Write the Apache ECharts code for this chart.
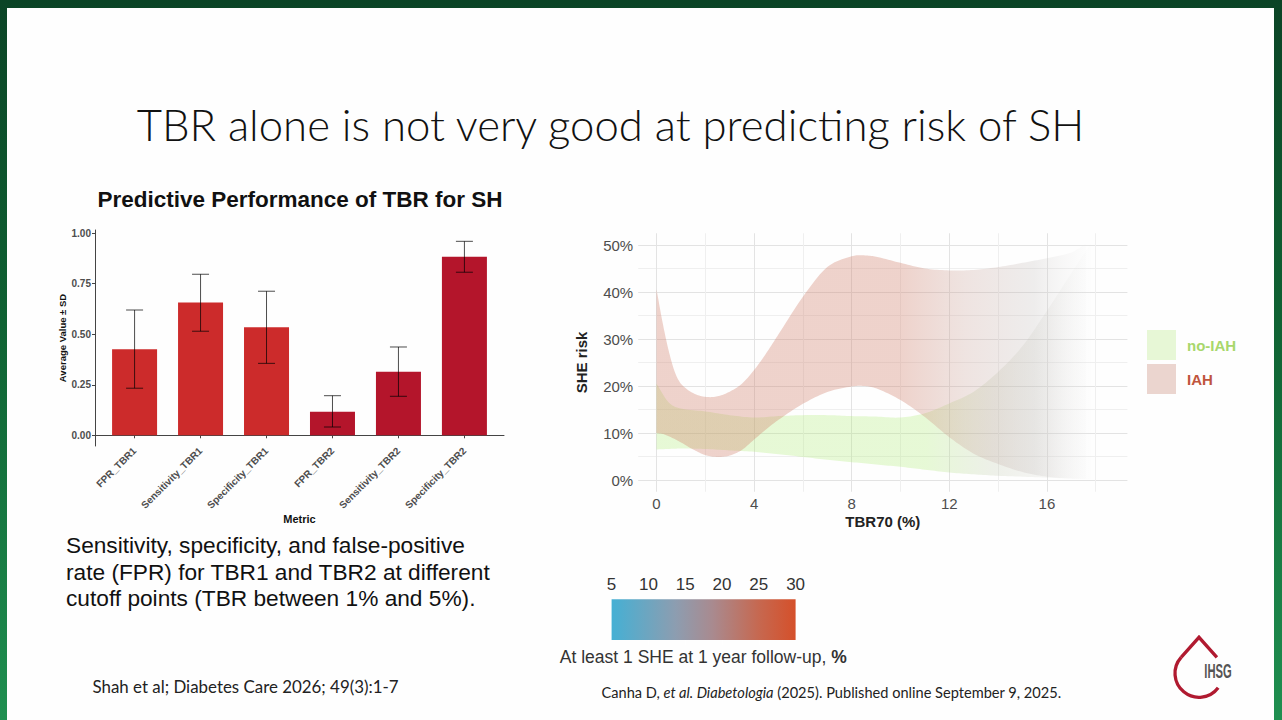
<!DOCTYPE html>
<html><head><meta charset="utf-8">
<script src="https://cdn.jsdelivr.net/npm/echarts@6/dist/echarts.min.js"></script>
<style>
html,body{margin:0;padding:0;width:1282px;height:720px;overflow:hidden;}
body{background:linear-gradient(to bottom,#0b4426 0%,#0f6233 45%,#1f8f50 100%);position:relative;}
#slide{position:absolute;left:7px;top:8px;width:1267px;height:712px;background:#fefefe;}
#chart{position:absolute;left:0;top:0;width:1282px;height:720px;}
</style></head><body><div id="slide"></div><div id="chart"></div>
<script>
// ---------- data: left bar chart ----------
const metrics = ['FPR_TBR1','Sensitivity_TBR1','Specificity_TBR1','FPR_TBR2','Sensitivity_TBR2','Specificity_TBR2'];
const meanValues = [0.426, 0.657, 0.535, 0.117, 0.315, 0.884];
const sdLower = [0.233, 0.515, 0.356, 0.041, 0.193, 0.807];
const sdUpper = [0.620, 0.797, 0.713, 0.196, 0.437, 0.960];
const barYTicks = [0, 0.25, 0.5, 0.75, 1];

// ---------- data: right ribbon chart ----------
const tbrTicksMajor = [0, 4, 8, 12, 16];
const tbrTicksMinor = [2, 6, 10, 14, 18];
const riskTicksMajor = [0, 10, 20, 30, 40, 50];
const riskTicksMinor = [5, 15, 25, 35, 45];

const iahTBR   = [0, 0.25, 0.5, 0.75, 1, 1.5, 2, 2.5, 3, 3.5, 4, 4.5, 5, 6, 7, 8, 8.5, 9, 10, 11, 12, 13, 14, 15, 16, 17, 17.6];
const iahLower = [10, 9.8, 9.3, 8.7, 8.0, 6.5, 5.3, 4.9, 5.2, 6.4, 8.6, 10.8, 12.8, 16.2, 18.7, 19.9, 20.0, 19.5, 17.0, 13.4, 9.1, 5.6, 3.4, 1.7, 0.7, 0.3, 0.2];
const iahUpper = [40.6, 33.5, 27.5, 23.0, 20.5, 18.5, 17.7, 17.8, 18.8, 20.5, 23.4, 27.0, 31.0, 39.0, 45.3, 47.6, 47.8, 47.5, 46.2, 45.0, 44.6, 44.7, 45.3, 46.2, 47.2, 48.4, 50.3];

const noIahTBR   = [0, 0.5, 1, 2, 3, 4, 5, 6, 7, 8, 9, 10, 11, 12, 13, 14, 15, 16, 17, 17.8];
const noIahLower = [6.5, 6.6, 6.7, 6.6, 6.3, 6.0, 5.5, 4.9, 4.3, 3.8, 3.3, 2.8, 2.2, 1.6, 1.2, 0.9, 0.7, 0.5, 0.3, 0.2];
const noIahUpper = [20.5, 16.5, 15.2, 14.6, 13.8, 13.3, 13.6, 13.8, 13.8, 13.6, 13.5, 13.3, 14.2, 16.3, 18.8, 23.0, 28.5, 36.0, 44.0, 50.4];

// ---------- data: colour bar ----------
const colorbarTicks = [5, 10, 15, 20, 25, 30];

// ---------- helpers ----------
const SANS = "'Liberation Sans', Arial, sans-serif";
const CAL = "Lato, 'Open Sans', sans-serif";

function spline(pts, sub) {
  const n = pts.length, out = [];
  const s = pts.map((p, i) => {
    const a = pts[Math.max(0, i - 1)], b = pts[Math.min(n - 1, i + 1)];
    return (b[1] - a[1]) / (b[0] - a[0]);
  });
  for (let i = 0; i < n - 1; i++) {
    const p = pts[i], q = pts[i + 1], h = q[0] - p[0];
    for (let k = 0; k < sub; k++) {
      const t = k / sub, t2 = t * t, t3 = t2 * t;
      const y = (2*t3 - 3*t2 + 1) * p[1] + (t3 - 2*t2 + t) * h * s[i] + (-2*t3 + 3*t2) * q[1] + (t3 - t2) * h * s[i + 1];
      out.push([p[0] + h * t, y]);
    }
  }
  out.push(pts[n - 1]);
  return out;
}

function ribbon(stops) {
  return function (params, api) {
    if (params.dataIndexInside !== 0) return null;
    const n = params.dataInsideLength;
    const up = [], lo = [];
    for (let i = 0; i < n; i++) {
      const x = api.value(0, i);
      lo.push(api.coord([x, api.value(1, i)]));
      up.push(api.coord([x, api.value(2, i)]));
    }
    const pts = spline(up, 10).concat(spline(lo, 10).reverse());
    return {
      type: 'polygon',
      shape: { points: pts },
      style: { fill: new echarts.graphic.LinearGradient(0, 0, 1, 0, stops) },
      silent: true
    };
  };
}

function errorBar(params, api) {
  const x = api.value(0), lo = api.value(1), hi = api.value(2);
  const a = api.coord([x, hi]), b = api.coord([x, lo]);
  const hw = 8.5;
  const st = { stroke: 'rgba(0,0,0,0.7)', lineWidth: 1 };
  return {
    type: 'group',
    children: [
      { type: 'line', shape: { x1: a[0], y1: a[1], x2: b[0], y2: b[1] }, style: st },
      { type: 'line', shape: { x1: a[0] - hw, y1: a[1], x2: a[0] + hw, y2: a[1] }, style: st },
      { type: 'line', shape: { x1: b[0] - hw, y1: b[1], x2: b[0] + hw, y2: b[1] }, style: st }
    ]
  };
}

const barPositions = metrics.map((m, i) => i + 1);

function txt(text, x, y, size, opts) {
  opts = opts || {};
  return {
    type: 'text', x: x, y: y, z: 5,
    style: Object.assign({
      text: text, fontSize: size, fontFamily: opts.family || SANS,
      fontWeight: opts.weight || 'normal', fill: opts.color || '#111',
      align: opts.align || 'left', textAlign: opts.align || 'left',
      verticalAlign: 'middle', textVerticalAlign: 'middle'
    }, opts.extra || {})
  };
}

const chart = echarts.init(document.getElementById('chart'), null, { renderer: 'svg' });

const option = {
  backgroundColor: 'transparent',
  animation: false,
  legend: {
    left: 1147, top: 330, orient: 'vertical', padding: 0,
    itemWidth: 29, itemHeight: 30, itemGap: 4, icon: 'rect', selectedMode: false,
    textStyle: { fontSize: 15, fontWeight: 'bold', fontFamily: SANS, padding: [0, 0, 0, 6] },
    data: [
      { name: 'no-IAH', itemStyle: { color: '#e7f7d6' }, textStyle: { color: '#a8d76c' } },
      { name: 'IAH', itemStyle: { color: '#ebd5cf' }, textStyle: { color: '#c0553d' } }
    ]
  },
  grid: [
    { left: 95, top: 230, width: 409, height: 216 },
    { left: 638.2, top: 233.25, width: 489.2, height: 258.5 },
    { left: 611.6, top: 599.3, width: 184, height: 40.7 }
  ],
  xAxis: [
    {
      gridIndex: 0, type: 'value', min: 0.4, max: 6.6,
      axisLine: { show: true, lineStyle: { color: '#444', width: 1 } },
      axisTick: { show: true, length: 3, customValues: barPositions, lineStyle: { color: '#444' } },
      axisLabel: {
        customValues: barPositions, rotate: 45, margin: 3,
        formatter: v => metrics[Math.round(v) - 1],
        fontSize: 10, fontWeight: 'bold', color: '#4d4d4d', fontFamily: SANS
      },
      splitLine: { show: false },
      name: 'Metric', nameLocation: 'middle', nameGap: 58,
      nameTextStyle: { fontSize: 11, fontWeight: 'bold', color: '#111', fontFamily: SANS }
    },
    {
      gridIndex: 1, type: 'value', min: -0.75, max: 19.3,
      axisLine: { show: false },
      axisTick: { show: false, customValues: tbrTicksMajor },
      axisLabel: { customValues: tbrTicksMajor, fontSize: 15, color: '#4d4d4d', margin: 4, fontFamily: SANS },
      splitLine: { show: true, lineStyle: { color: '#e3e3e3', width: 1 } },
      name: 'TBR70 (%)', nameLocation: 'middle', nameGap: 22,
      nameTextStyle: { fontSize: 15, fontWeight: 'bold', color: '#222', fontFamily: SANS }
    },
    {
      gridIndex: 1, type: 'value', min: -0.75, max: 19.3,
      axisLine: { show: false },
      axisTick: { show: false, customValues: tbrTicksMinor },
      axisLabel: { show: false, customValues: tbrTicksMinor },
      splitLine: { show: true, lineStyle: { color: '#efefef', width: 1 } }
    },
    {
      gridIndex: 2, type: 'value', position: 'top', min: 5, max: 30, z: 10,
      axisLine: { show: false },
      axisTick: { show: true, inside: true, length: 5, customValues: colorbarTicks.slice(1, -1), lineStyle: { color: '#ffffff', width: 1 } },
      axisLabel: { customValues: colorbarTicks, fontSize: 17, color: '#333', margin: 6, fontFamily: SANS },
      splitLine: { show: false }
    }
  ],
  yAxis: [
    {
      gridIndex: 0, type: 'value', min: -0.053, max: 1.016,
      axisLine: { show: true, lineStyle: { color: '#444', width: 1 } },
      axisTick: { show: true, length: 3, customValues: barYTicks, lineStyle: { color: '#444' } },
      axisLabel: { customValues: barYTicks, formatter: v => v.toFixed(2), fontSize: 10, fontWeight: 'bold', color: '#4d4d4d', margin: 4, fontFamily: SANS },
      splitLine: { show: false },
      name: 'Average Value \u00b1 SD', nameLocation: 'middle', nameGap: 27,
      nameTextStyle: { fontSize: 9.5, fontWeight: 'bold', color: '#111', fontFamily: SANS }
    },
    {
      gridIndex: 1, type: 'value', min: -2.5, max: 52.5,
      axisLine: { show: false },
      axisTick: { show: false, customValues: riskTicksMajor },
      axisLabel: { customValues: riskTicksMajor, formatter: v => v + '%', fontSize: 15, color: '#4d4d4d', margin: 5, fontFamily: SANS },
      splitLine: { show: true, lineStyle: { color: '#e3e3e3', width: 1 } },
      name: 'SHE risk', nameLocation: 'middle', nameGap: 49,
      nameTextStyle: { fontSize: 15, fontWeight: 'bold', color: '#222', fontFamily: SANS }
    },
    {
      gridIndex: 1, type: 'value', min: -2.5, max: 52.5,
      axisLine: { show: false },
      axisTick: { show: false, customValues: riskTicksMinor },
      axisLabel: { show: false, customValues: riskTicksMinor },
      splitLine: { show: true, lineStyle: { color: '#efefef', width: 1 } }
    },
    { gridIndex: 2, type: 'value', min: 0, max: 1, show: false }
  ],
  series: [
    {
      type: 'bar', xAxisIndex: 0, yAxisIndex: 0, barWidth: 45, silent: true,
      data: metrics.map((m, i) => [barPositions[i], meanValues[i]]),
      itemStyle: { color: p => metrics[p.dataIndex].endsWith('TBR1') ? '#cc2b2b' : '#b4152b' }
    },
    {
      type: 'custom', xAxisIndex: 0, yAxisIndex: 0, z: 4, silent: true,
      encode: { x: 0, y: [1, 2] },
      data: metrics.map((m, i) => [barPositions[i], sdLower[i], sdUpper[i]]),
      renderItem: errorBar
    },
    {
      type: 'custom', name: 'no-IAH', xAxisIndex: 1, yAxisIndex: 1, silent: true,
      itemStyle: { color: '#e7f7d6' },
      encode: { x: 0, y: [1, 2] },
      data: noIahTBR.map((x, i) => [x, noIahLower[i], noIahUpper[i]]),
      renderItem: ribbon([
        { offset: 0, color: 'rgba(170,235,110,0.28)' },
        { offset: 0.62, color: 'rgba(170,235,110,0.28)' },
        { offset: 0.78, color: 'rgba(185,195,165,0.24)' },
        { offset: 0.9, color: 'rgba(200,198,190,0.16)' },
        { offset: 1, color: 'rgba(230,230,230,0.04)' }
      ])
    },
    {
      type: 'custom', name: 'IAH', xAxisIndex: 1, yAxisIndex: 1, silent: true,
      itemStyle: { color: '#ebd5cf' },
      encode: { x: 0, y: [1, 2] },
      data: iahTBR.map((x, i) => [x, iahLower[i], iahUpper[i]]),
      renderItem: ribbon([
        { offset: 0, color: 'rgba(209,129,109,0.35)' },
        { offset: 0.57, color: 'rgba(209,129,109,0.35)' },
        { offset: 0.72, color: 'rgba(200,160,150,0.28)' },
        { offset: 0.88, color: 'rgba(190,185,183,0.25)' },
        { offset: 1, color: 'rgba(225,225,225,0.06)' }
      ])
    }
  ],
  graphic: [
    txt('TBR alone is not very good at predicting risk of SH', 610.5, 124, 43.7, { family: CAL, weight: 300, align: 'center', color: '#111' }),
    txt('Predictive Performance of TBR for SH', 300, 199, 22.5, { weight: 'bold', align: 'center', color: '#111' }),
    txt('Sensitivity, specificity, and false-positive', 66, 544.5, 22.7, { color: '#111' }),
    txt('rate (FPR) for TBR1 and TBR2 at different', 66, 571.5, 22.7, { color: '#111' }),
    txt('cutoff points (TBR between 1% and 5%).', 66, 598, 22.7, { color: '#111' }),
    txt('Shah et al; Diabetes Care 2026; 49(3):1-7', 92.5, 686, 16.9, { family: CAL, color: '#222' }),
    txt('{a|Canha D, }{i|et al. Diabetologia}{a| (2025). Published online September 9, 2025.}', 601.5, 692, 14.6, {
      family: CAL, color: '#222',
      extra: { rich: {
        a: { fontSize: 14.6, fontFamily: CAL, fill: '#222', color: '#222' },
        i: { fontSize: 14.6, fontFamily: CAL, fontStyle: 'italic', fill: '#222', color: '#222' }
      } }
    }),
    {
      type: 'rect', z: 0,
      shape: { x: 611.6, y: 599.3, width: 184, height: 40.7 },
      style: { fill: new echarts.graphic.LinearGradient(0, 0, 1, 0, [
        { offset: 0, color: '#45b0d4' },
        { offset: 0.35, color: '#8d9db0' },
        { offset: 0.55, color: '#a98a8f' },
        { offset: 0.8, color: '#c66850' },
        { offset: 1, color: '#d5502a' }
      ]) }
    },
    txt('{n|At least 1 SHE at 1 year follow-up, }{b|%}', 703.3, 656.5, 17.5, {
      align: 'center', color: '#333',
      extra: { rich: {
        n: { fontSize: 17.5, fontFamily: SANS, fill: '#333', color: '#333' },
        b: { fontSize: 17.5, fontFamily: SANS, fontWeight: 'bold', fill: '#333', color: '#333' }
      } }
    }),
    {
      type: 'polyline', z: 5,
      shape: { points: [[1216.9, 657.3], [1199, 637.3], [1181.1, 657.3]] },
      style: { stroke: '#b01a30', lineWidth: 3.3, fill: null, lineJoin: 'miter' }
    },
    {
      type: 'arc', z: 5,
      shape: { cx: 1199, cy: 673.3, r: 24, startAngle: 37 * Math.PI / 180, endAngle: 221.8 * Math.PI / 180, clockwise: true },
      style: { stroke: '#b01a30', lineWidth: 3.3, fill: null }
    },
    {
      type: 'text', x: 1204.3, y: 671, scaleX: 0.56, z: 5,
      style: { text: 'IHSG', fontSize: 20, fontWeight: 'bold', fontFamily: SANS, fill: '#555',
        align: 'left', textAlign: 'left', verticalAlign: 'middle', textVerticalAlign: 'middle' }
    }
  ]
};

chart.setOption(option);
</script>
</body></html>
